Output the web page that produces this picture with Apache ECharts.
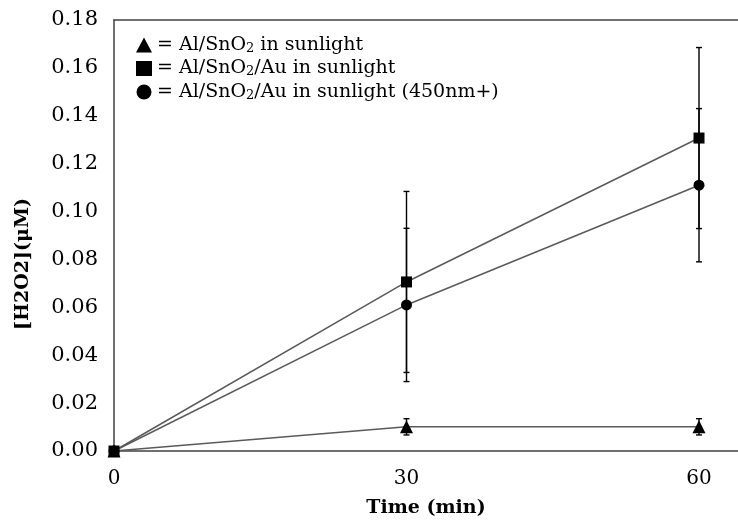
<!DOCTYPE html>
<html>
<head>
<meta charset="utf-8">
<script src="https://cdn.jsdelivr.net/npm/echarts@6/dist/echarts.min.js"></script>
<style>
html,body{margin:0;padding:0;background:#fff;}
#chart{width:738px;height:529px;}
</style>
</head>
<body>
<div id="chart"></div>
<script>
const times = [0, 30, 60];
const xTicks = ['0', '30', '60'];
const yTicks = ['0.00','0.02','0.04','0.06','0.08','0.10','0.12','0.14','0.16','0.18'];

const seriesNames = ['Al/SnO2 in sunlight', 'Al/SnO2/Au in sunlight', 'Al/SnO2/Au in sunlight (450nm+)'];
const legendTexts = ['= Al/SnO{sub|2} in sunlight', '= Al/SnO{sub|2}/Au in sunlight', '= Al/SnO{sub|2}/Au in sunlight (450nm+)'];

const triVals = [0, 0.0101, 0.0101];
const triErr  = [0, 0.0034, 0.0034];
const sqVals  = [0, 0.0706, 0.1307];
const sqErr   = [0, 0.0378, 0.0378];
const ciVals  = [0, 0.061, 0.111];
const ciErr   = [0, 0.032, 0.032];

const FONT = 'DejaVu Serif';

function pts(vals){ return times.map((t,i)=>[t, vals[i]]); }
function errPts(vals, errs){
  const out = [];
  times.forEach((t,i)=>{ if (errs[i] > 0) out.push([t, vals[i]-errs[i], vals[i]+errs[i]]); });
  return out;
}
function errSeries(vals, errs){
  return {
    type: 'custom',
    silent: true,
    z: 1,
    data: errPts(vals, errs),
    encode: {x: 0, y: [1, 2]},
    renderItem: function(params, api){
      const x = api.value(0), lo = api.value(1), hi = api.value(2);
      const a = api.coord([x, hi]), b = api.coord([x, lo]);
      const w = 3;
      const st = {stroke: '#000', lineWidth: 1.4};
      return {type: 'group', children: [
        {type: 'line', shape: {x1: a[0], y1: a[1], x2: b[0], y2: b[1]}, style: st},
        {type: 'line', shape: {x1: a[0]-w, y1: a[1], x2: a[0]+w, y2: a[1]}, style: st},
        {type: 'line', shape: {x1: b[0]-w, y1: b[1], x2: b[0]+w, y2: b[1]}, style: st}
      ]};
    }
  };
}
function lineSeries(name, vals, symbol, size, z){
  return {
    name: name, type: 'line', data: pts(vals), symbol: symbol, symbolSize: size,
    z: z,
    itemStyle: {color: '#000'},
    lineStyle: {color: '#5a5a5a', width: 1.5},
    emphasis: {disabled: true},
    animation: false
  };
}

const chart = echarts.init(document.getElementById('chart'));
chart.setOption({
  animation: false,
  grid: {left: 114, right: 0, top: 20, bottom: 78},
  legend: {
    orient: 'vertical', left: 131, top: 30,
    itemWidth: 16, itemHeight: 15, itemGap: 3.5,
    data: [
      {name: seriesNames[0], icon: 'triangle'},
      {name: seriesNames[1], icon: 'rect'},
      {name: seriesNames[2], icon: 'circle'}
    ],
    formatter: function(n){ return legendTexts[seriesNames.indexOf(n)]; },
    textStyle: {
      fontFamily: FONT, fontSize: 19, color: '#000', lineHeight: 20,
      rich: {sub: {fontFamily: FONT, fontSize: 13, verticalAlign: 'bottom', lineHeight: 14, padding: [6,0,0,0]}}
    },
    itemStyle: {color: '#000'}
  },
  xAxis: [{
    type: 'value', min: 0, max: 64, interval: 30,
    name: 'Time (min)', nameLocation: 'middle', nameGap: 48,
    nameTextStyle: {fontFamily: FONT, fontSize: 19, fontWeight: 'bold', color: '#000'},
    axisLine: {show: true, lineStyle: {color: '#404040', width: 1.5}},
    axisTick: {show: false},
    splitLine: {show: false},
    axisLabel: {
      fontFamily: FONT, fontSize: 20, color: '#000', margin: 18,
      showMaxLabel: false,
      formatter: function(v){ const i = times.indexOf(v); return i >= 0 ? xTicks[i] : ''; }
    }
  }, {
    type: 'value', min: 0, max: 64, position: 'top',
    axisLine: {show: true, onZero: false, lineStyle: {color: '#404040', width: 1.5}},
    axisTick: {show: false}, axisLabel: {show: false}, splitLine: {show: false}
  }],
  yAxis: {
    type: 'value', min: 0, max: 0.18, interval: 0.02,
    axisLine: {show: true, lineStyle: {color: '#404040', width: 1.5}},
    axisTick: {show: false},
    splitLine: {show: false},
    axisLabel: {
      fontFamily: FONT, fontSize: 21, color: '#000', margin: 16,
      formatter: function(v){ return yTicks[Math.round(v/0.02)]; }
    }
  },
  graphic: [{
    type: 'text', x: 23, y: 264, rotation: Math.PI/2,
    style: {text: '[H2O2](μM)', font: 'bold 19px "DejaVu Serif"', fill: '#000', align: 'center', verticalAlign: 'middle'}
  }],
  series: [
    errSeries(triVals, triErr),
    errSeries(sqVals, sqErr),
    errSeries(ciVals, ciErr),
    lineSeries(seriesNames[0], triVals, 'triangle', 13, 3),
    lineSeries(seriesNames[2], ciVals, 'circle', 11, 4),
    lineSeries(seriesNames[1], sqVals, 'rect', 11, 5)
  ]
});
</script>
</body>
</html>
